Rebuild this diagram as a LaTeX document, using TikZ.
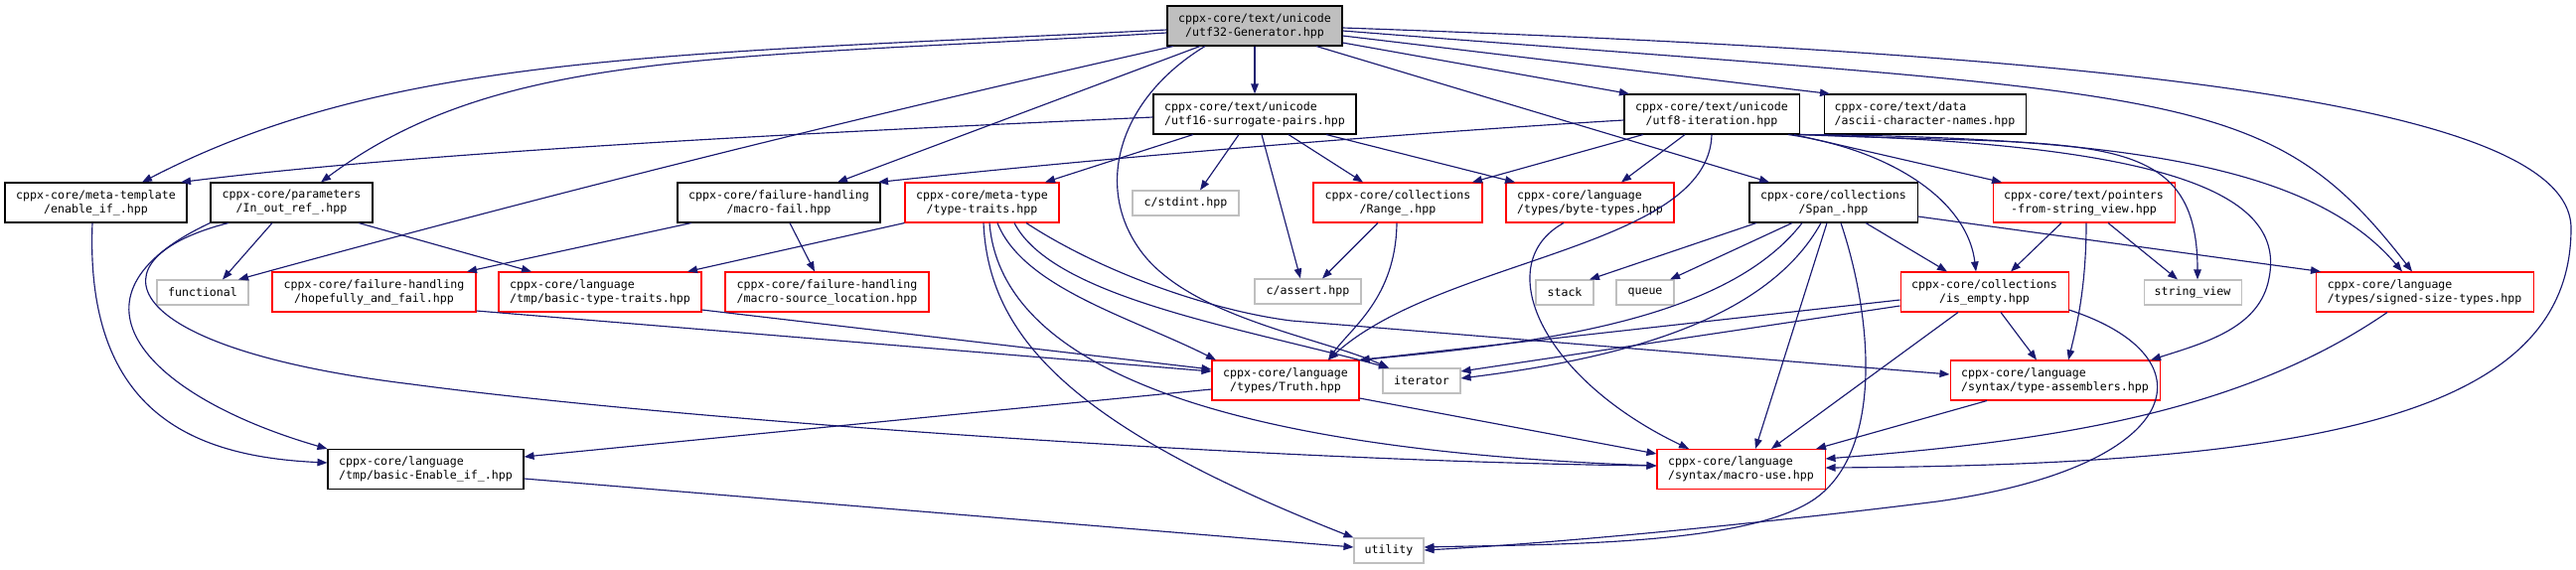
\documentclass[tikz,border=0pt]{standalone}
\usepackage{fontspec}
\setmonofont{DejaVu Sans Mono}
\usetikzlibrary{arrows.meta}
\definecolor{edgec}{HTML}{191970}
\definecolor{grayc}{HTML}{BFBFBF}
\definecolor{redc}{HTML}{FF0000}
\tikzset{
  box/.style={draw, line width=1.05pt, inner sep=0pt, minimum height=40pt,
    font=\ttfamily\fontsize{11.6}{14}\selectfont, align=center},
  blk/.style={box, draw=black},
  redbox/.style={box, draw=redc},
  sys/.style={box, draw=grayc, minimum height=25pt},
  edge/.style={draw=edgec, line width=1.15pt, -{Triangle[length=10pt,width=7.5pt]}},
}
\begin{document}
\begin{tikzpicture}[x=1pt,y=-1pt]
\fill[white] (0,0) rectangle (2593,573);
\useasboundingbox (0,0) rectangle (2593,573);

% nodes
\node[blk, fill=grayc, minimum width=176pt] (root) at (1263,26) {cppx-core/text/unicode\\/utf32-Generator.hpp};
\node[blk, align=left, minimum width=204pt] (u16) at (1263,115) {cppx-core/text/unicode\\/utf16-surrogate-pairs.hpp};
\node[blk, minimum width=176pt] (u8) at (1723,115) {cppx-core/text/unicode\\/utf8-iteration.hpp};
\node[blk, align=left, minimum width=203pt] (ascii) at (1937.5,115) {cppx-core/text/data\\/ascii-character-names.hpp};
\node[blk, minimum width=183pt] (enif) at (96.5,204) {cppx-core/meta-template\\/enable\_if\_.hpp};
\node[blk, minimum width=163pt] (inout) at (293.5,204) {cppx-core/parameters\\/In\_out\_ref\_.hpp};
\node[blk, minimum width=204pt] (mfail) at (784,204) {cppx-core/failure-handling\\/macro-fail.hpp};
\node[redbox, minimum width=155pt] (ttraits) at (988.5,204) {cppx-core/meta-type\\/type-traits.hpp};
\node[sys, minimum width=107pt] (stdint) at (1193.5,204.5) {c/stdint.hpp};
\node[redbox, minimum width=170pt] (range) at (1407,204) {cppx-core/collections\\/Range\_.hpp};
\node[redbox, align=left, minimum width=169pt] (byte) at (1600.5,204) {cppx-core/language\\/types/byte-types.hpp};
\node[blk, minimum width=169pt] (span) at (1845.5,204) {cppx-core/collections\\/Span\_.hpp};
\node[redbox, minimum width=183pt] (ptrs) at (2097.5,204) {cppx-core/text/pointers\\-from-string\_view.hpp};
\node[sys, minimum width=92pt] (func) at (204,294.5) {functional};
\node[redbox, minimum width=205pt] (hope) at (376.5,294) {cppx-core/failure-handling\\/hopefully\_and\_fail.hpp};
\node[redbox, align=left, minimum width=204pt] (btt) at (604,294) {cppx-core/language\\/tmp/basic-type-traits.hpp};
\node[redbox, minimum width=205pt] (msl) at (832.5,294) {cppx-core/failure-handling\\/macro-source\_location.hpp};
\node[sys, minimum width=107pt] (assert) at (1316.5,293.5) {c/assert.hpp};
\node[sys, minimum width=58pt] (stack) at (1575,294.5) {stack};
\node[sys, minimum width=58pt] (queue) at (1656,294.5) {queue};
\node[redbox, minimum width=169pt] (isempty) at (1997.5,294) {cppx-core/collections\\/is\_empty.hpp};
\node[sys, minimum width=98pt] (sview) at (2207,294.5) {string\_view};
\node[redbox, align=left, minimum width=219pt] (ssize) at (2440.5,294) {cppx-core/language\\/types/signed-size-types.hpp};
\node[redbox, minimum width=148pt] (truth) at (1294,383) {cppx-core/language\\/types/Truth.hpp};
\node[sys, minimum width=78pt] (iter) at (1431,383.5) {iterator};
\node[redbox, align=left, minimum width=211pt] (tasm) at (2068.5,383) {cppx-core/language\\/syntax/type-assemblers.hpp};
\node[blk, align=left, minimum width=197pt] (benif) at (428.5,472.5) {cppx-core/language\\/tmp/basic-Enable\_if\_.hpp};
\node[redbox, align=left, minimum width=169pt] (muse) at (1752.5,472.5) {cppx-core/language\\/syntax/macro-use.hpp};
\node[sys, minimum width=70pt] (util) at (1398,554.5) {utility};

% root
\draw[edge] (root.west |- 0,30) .. controls (675,55) and (393,54) .. (enif.north -| 143,0);
\draw[edge] (root.west |- 0,33) .. controls (725,60) and (503,49) .. (inout.north -| 323,0);
\draw[edge] (root.south -| 1181,0) .. controls (867,117) and (554,195) .. (func.north -| 240,0);
\draw[edge] (root.south -| 1208,0) -- (mfail.north -| 843,0);
\draw[edge] (root) -- (u16);
\draw[edge] (root.south -| 1213,0) .. controls (1125,100) and (1100,190) .. (1150,255) .. controls (1200,320) and (1330,340) .. (iter.north -| 1398,0);
\draw[edge] (root.east |- 0,43) -- (u8.north -| 1640,0);
\draw[edge] (root.south -| 1325,0) -- (span.north -| 1781,0);
\draw[edge] (root.east |- 0,36) -- (ascii.north -| 1842,0);
\draw[edge] (root.east |- 0,31) .. controls (2194,97) and (2280,82) .. (ssize.north -| 2428,0);
\draw[edge] (root.east |- 0,28) .. controls (2099,54) and (2588,100) .. (2588,230) .. controls (2588,418) and (2336,468) .. (muse.east |- 0,471);

% utf16
\draw[edge] (u16.west |- 0,118) .. controls (900,130) and (450,150) .. (enif.north -| 182,0);
\draw[edge] (u16.south -| 1201,0) -- (ttraits.north -| 1052,0);
\draw[edge] (u16.south -| 1247,0) -- (stdint.north -| 1208,0);
\draw[edge] (u16.south -| 1270,0) -- (assert.north -| 1309,0);
\draw[edge] (u16.south -| 1297,0) -- (range.north -| 1372,0);
\draw[edge] (u16.south -| 1335,0) -- (byte.north -| 1525,0);

% utf8
\draw[edge] (u8.west |- 0,121) .. controls (1400,135) and (1100,160) .. (mfail.north -| 884,0);
\draw[edge] (u8.south -| 1654,0) -- (range.north -| 1482,0);
\draw[edge] (u8.south -| 1696,0) -- (byte.north -| 1632,0);
\draw[edge] (u8.south -| 1723,0) .. controls (1720,250) and (1450,260) .. (truth.north -| 1337,0);
\draw[edge] (u8.south -| 1800,0) .. controls (1900,150) and (1980,200) .. (isempty.north -| 1989,0);
\draw[edge] (u8.south -| 1806,0) -- (ptrs.north -| 2015,0);
\draw[edge] (u8.south east) .. controls (2100,148) and (2212,125) .. (sview.north -| 2212,0);
\draw[edge] (u8.south east) .. controls (2200,145) and (2300,200) .. (2284,280) .. controls (2275,330) and (2220,345) .. (tasm.north -| 2165,0);
\draw[edge] (u8.south east) .. controls (2150,138) and (2330,170) .. (ssize.north -| 2418,0);

% enable_if_, In_out_ref_
\draw[edge] (enif.south -| 93,0) .. controls (85,420) and (200,460) .. (benif.west |- 0,466);
\draw[edge] (inout.south -| 274,0) -- (func.north -| 224,0);
\draw[edge] (inout.south -| 361,0) -- (btt.north -| 535,0);
\draw[edge] (inout.south west) .. controls (50,300) and (150,400) .. (benif.north west);
\draw[edge] (inout.south -| 230,0) .. controls (90,260) and (110,350) .. (415,387) .. controls (700,425) and (1300,465) .. (muse.west |- 0,469);

% macro-fail
\draw[edge] (mfail.south -| 696,0) -- (hope.north -| 470,0);
\draw[edge] (mfail.south -| 795,0) -- (msl.north -| 820,0);

% type-traits
\draw[edge] (ttraits.south west) -- (btt.north -| 692,0);
\draw[edge] (ttraits.south -| 990,0) .. controls (995,340) and (1080,430) .. (util.north west);
\draw[edge] (ttraits.south -| 996,0) .. controls (1005,340) and (1150,450) .. (muse.west |- 0,469);
\draw[edge] (ttraits.south -| 1004,0) .. controls (1030,290) and (1140,320) .. (truth.north -| 1224,0);
\draw[edge] (ttraits.south -| 1021,0) .. controls (1060,300) and (1250,330) .. (iter.north -| 1398,0);
\draw[edge] (ttraits.south -| 1033,0) .. controls (1110,275) and (1220,313) .. (1300,323) -- (tasm.west |- 0,377);

% Range_, byte-types
\draw[edge] (range.south -| 1387,0) -- (assert.north -| 1331,0);
\draw[edge] (range.south -| 1406,0) .. controls (1405,300) and (1360,330) .. (truth.north -| 1337,0);
\draw[edge] (byte.south -| 1574,0) .. controls (1500,265) and (1550,380) .. (muse.north -| 1700,0);

% Span_
\draw[edge] (span.south -| 1768,0) -- (stack.north -| 1600,0);
\draw[edge] (span.south -| 1804,0) -- (queue.north -| 1681,0);
\draw[edge] (span.south -| 1814,0) .. controls (1740,320) and (1560,345) .. (truth.north east);
\draw[edge] (span.south -| 1833,0) .. controls (1780,320) and (1640,360) .. (iter.east |- 0,381);
\draw[edge] (span.south -| 1839,0) -- (muse.north -| 1767,0);
\draw[edge] (span.south -| 1853,0) .. controls (1885,320) and (1895,450) .. (1830,500) .. controls (1765,550) and (1560,548) .. (util.east |- 0,551);
\draw[edge] (span.south -| 1878,0) -- (isempty.north -| 1960,0);
\draw[edge] (span.east |- 0,218) -- (ssize.north -| 2336,0);

% pointers
\draw[edge] (ptrs.south -| 2075,0) -- (isempty.north -| 2024,0);
\draw[edge] (ptrs.south -| 2100,0) .. controls (2100,290) and (2090,330) .. (tasm.north -| 2082,0);
\draw[edge] (ptrs.south -| 2122,0) -- (sview.north -| 2192,0);

% hopefully, basic-type-traits
\draw[edge] (hope.east |- 0,313) -- (truth.west |- 0,374);
\draw[edge] (btt.east |- 0,312) -- (truth.west |- 0,372);

% is_empty
\draw[edge] (isempty.west |- 0,302) -- (truth.north east);
\draw[edge] (isempty.west |- 0,308) -- (iter.east |- 0,374);
\draw[edge] (isempty.south -| 1971,0) -- (muse.north -| 1783,0);
\draw[edge] (isempty.south -| 2014,0) -- (tasm.north -| 2050,0);
\draw[edge] (isempty.east |- 0,312) .. controls (2230,360) and (2200,470) .. (1950,505) .. controls (1750,530) and (1550,548) .. (util.east |- 0,554);

% Truth, type-assemblers, signed-size-types, basic-Enable_if_
\draw[edge] (truth.west |- 0,392) -- (benif.east |- 0,460);
\draw[edge] (truth.east |- 0,401) -- (muse.west |- 0,457);
\draw[edge] (tasm.south -| 2000,0) -- (muse.north -| 1828,0);
\draw[edge] (ssize.south -| 2403,0) .. controls (2250,420) and (2050,445) .. (muse.east |- 0,462);
\draw[edge] (benif.east |- 0,482) -- (util.west |- 0,551);
\end{tikzpicture}
\end{document}
